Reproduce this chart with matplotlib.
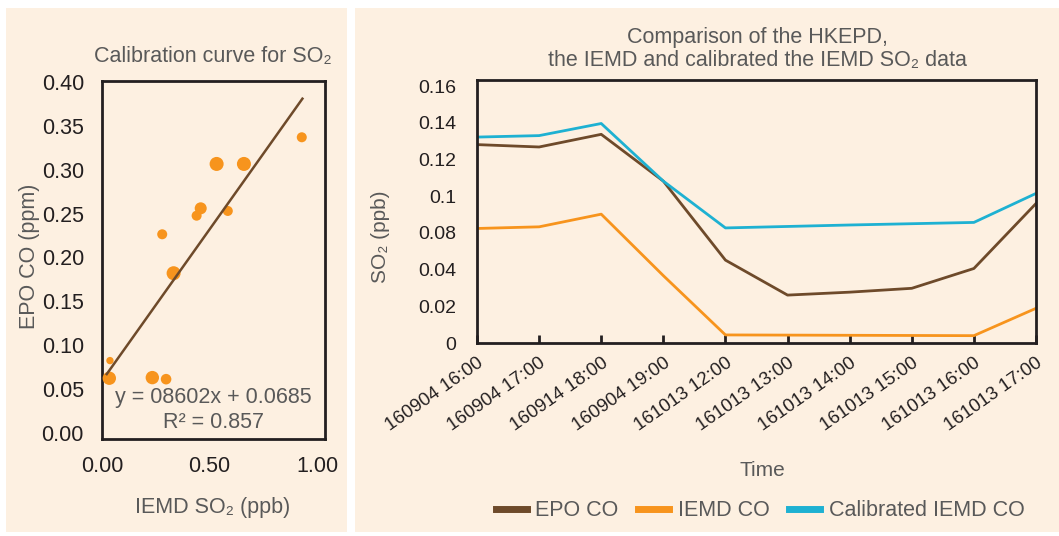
import numpy as np
import matplotlib
matplotlib.use("Agg")
import matplotlib.pyplot as plt
from matplotlib.patches import Rectangle
from matplotlib.lines import Line2D

# ---------------- data ----------------
# calibration scatter (IEMD SO2 vs EPO CO)
iemd_so2 = [0.929, 0.533, 0.660, 0.459, 0.440, 0.585, 0.280, 0.333, 0.037, 0.034, 0.234, 0.298]
epo_co = [0.337, 0.3066, 0.3066, 0.256, 0.2476, 0.253, 0.2264, 0.182, 0.0824, 0.0623, 0.063, 0.0612]
point_sizes = [52, 102, 102, 75, 52, 52, 52, 102, 28, 93, 93, 58]

# fitted line end points
fit_x = [0.022, 0.932]
fit_y = [0.067, 0.381]
fit_equation = "y = 08602x + 0.0685"
fit_r2 = "R\u00b2 = 0.857"

# time series comparison
times = ["160904 16:00", "160904 17:00", "160914 18:00", "160904 19:00",
         "161013 12:00", "161013 13:00", "161013 14:00", "161013 15:00",
         "161013 16:00", "161013 17:00"]
epo_series = [0.1281, 0.1268, 0.1337, 0.1082, 0.0503, 0.0261, 0.0277, 0.0298, 0.0412, 0.0960]
iemd_series = [0.0824, 0.0833, 0.0902, 0.0367, 0.0044, 0.0043, 0.0042, 0.0041, 0.0040, 0.0189]
calib_series = [0.1322, 0.1330, 0.1396, 0.1082, 0.0827, 0.0835, 0.0843, 0.0850, 0.0857, 0.1015]

so2_ticks = [0, 0.02, 0.04, 0.08, 0.1, 0.12, 0.14, 0.16]
so2_tick_labels = ["0", "0.02", "0.04", "0.08", "0.1", "0.12", "0.14", "0.16"]

# ---------------- style ----------------
CREAM = "#fdf0e1"
BROWN = "#6e4a2a"
ORANGE = "#f7941d"
CYAN = "#1eb1d2"
GRAY = "#595959"
DARK = "#231f20"
FONT = ["Liberation Sans", "DejaVu Sans"]

plt.rcParams["font.family"] = FONT

W, H = 1059, 536
fig = plt.figure(figsize=(W / 100, H / 100), dpi=100, facecolor="white")


def fx(px):
    return px / W


def fy(py):
    return 1 - py / H


# panel backgrounds
fig.patches.append(Rectangle((fx(6), fy(532)), fx(347 - 6), (532 - 8) / H,
                             transform=fig.transFigure, facecolor=CREAM,
                             edgecolor="none", zorder=-10))
fig.patches.append(Rectangle((fx(355), fy(532)), fx(W - 355), (532 - 8) / H,
                             transform=fig.transFigure, facecolor=CREAM,
                             edgecolor="none", zorder=-10))

# ---------------- left: calibration curve ----------------
axl = fig.add_axes([fx(102), fy(439), fx(325 - 102), (439 - 80.7) / H])
axl.set_facecolor(CREAM)
axl.scatter(iemd_so2, epo_co, s=point_sizes, color=ORANGE, edgecolors="none", zorder=3)
axl.plot(fit_x, fit_y, color=BROWN, lw=1.8, zorder=4)
axl.set_xlim(0, 1.037)
axl.set_ylim(-0.007, 0.4015)
axl.set_xticks([0, 0.5, 1.0], ["0.00", "0.50", "1.00"])
axl.set_yticks(np.arange(0, 0.41, 0.05), [f"{v:.2f}" for v in np.arange(0, 0.41, 0.05)])
axl.tick_params(length=0, labelsize=15.5, labelcolor=DARK)
axl.tick_params(axis="y", pad=13)
axl.tick_params(axis="x", pad=12)
for sp in axl.spines.values():
    sp.set_color(DARK)
    sp.set_linewidth(2)
axl.text(0.5, 0.115, fit_equation, transform=axl.transAxes, ha="center", va="center",
         fontsize=15.5, color=GRAY)
axl.text(0.5, 0.045, fit_r2, transform=axl.transAxes, ha="center", va="center",
         fontsize=15.5, color=GRAY)

fig.text(fx(213), fy(57), "Calibration curve for SO\u2082", ha="center", va="center",
         fontsize=15.5, color=GRAY)
fig.text(fx(30), fy(256), "EPO CO (ppm)", ha="center", va="center", rotation=90,
         fontsize=15.5, color=GRAY)
fig.text(fx(213), fy(508), "IEMD SO\u2082 (ppb)", ha="center", va="center",
         fontsize=15.5, color=GRAY)

# ---------------- right: time series comparison ----------------
# piecewise-linear SO2 axis: one tick step per label
unit_vals = [0, 0.02, 0.04, 0.08, 0.10, 0.12, 0.14, 0.16, 0.18]
unit_pos = [0, 1, 2, 3, 4, 5, 6, 7, 8]


def fwd(v):
    return np.interp(v, unit_vals, unit_pos)


def inv(u):
    return np.interp(u, unit_pos, unit_vals)


axr = fig.add_axes([fx(477), fy(343), fx(1036 - 477), (343 - 80) / H])
axr.set_facecolor(CREAM)
x = np.arange(len(times))
axr.plot(x, epo_series, color=BROWN, lw=2.0, label="EPO CO")
axr.plot(x, iemd_series, color=ORANGE, lw=2.0, label="IEMD CO")
axr.plot(x, calib_series, color=CYAN, lw=2.0, label="Calibrated IEMD CO")
axr.set_yscale("function", functions=(fwd, inv))
axr.set_ylim(0, 0.1633)
axr.set_xlim(0, len(times) - 1)
axr.set_yticks(so2_ticks, so2_tick_labels)
axr.yaxis.set_minor_locator(matplotlib.ticker.NullLocator())
axr.set_xticks(x, times)
axr.tick_params(axis="y", length=0, pad=15, labelsize=14, labelcolor=DARK)
axr.tick_params(axis="x", direction="in", length=6, width=2, color=DARK,
                pad=8, labelsize=13.5, labelcolor=DARK)
for lab in axr.get_xticklabels():
    lab.set_rotation(35)
    lab.set_ha("right")
    lab.set_rotation_mode("anchor")
for sp in axr.spines.values():
    sp.set_color(DARK)
    sp.set_linewidth(2)

fig.text(fx(757), fy(37), "Comparison of the HKEPD,", ha="center", va="center",
         fontsize=15.5, color=GRAY)
fig.text(fx(757), fy(60), "the IEMD and calibrated the IEMD SO\u2082 data", ha="center",
         va="center", fontsize=15.5, color=GRAY)
fig.text(fx(380), fy(237), "SO\u2082 (ppb)", ha="center", va="center", rotation=90,
         fontsize=15, color=GRAY)
fig.text(fx(762), fy(470), "Time", ha="center", va="center", fontsize=15, color=GRAY)

handles = [Line2D([], [], color=c, lw=5) for c in (BROWN, ORANGE, CYAN)]
leg = fig.legend(handles, ["EPO CO", "IEMD CO", "Calibrated IEMD CO"], ncol=3,
                 loc="center", bbox_to_anchor=(fx(760), fy(511)), frameon=False,
                 fontsize=15.5, handlelength=1.45, handletextpad=0.4,
                 columnspacing=0.9, labelcolor=GRAY)

fig.savefig("out.png", dpi=100, facecolor="white")
